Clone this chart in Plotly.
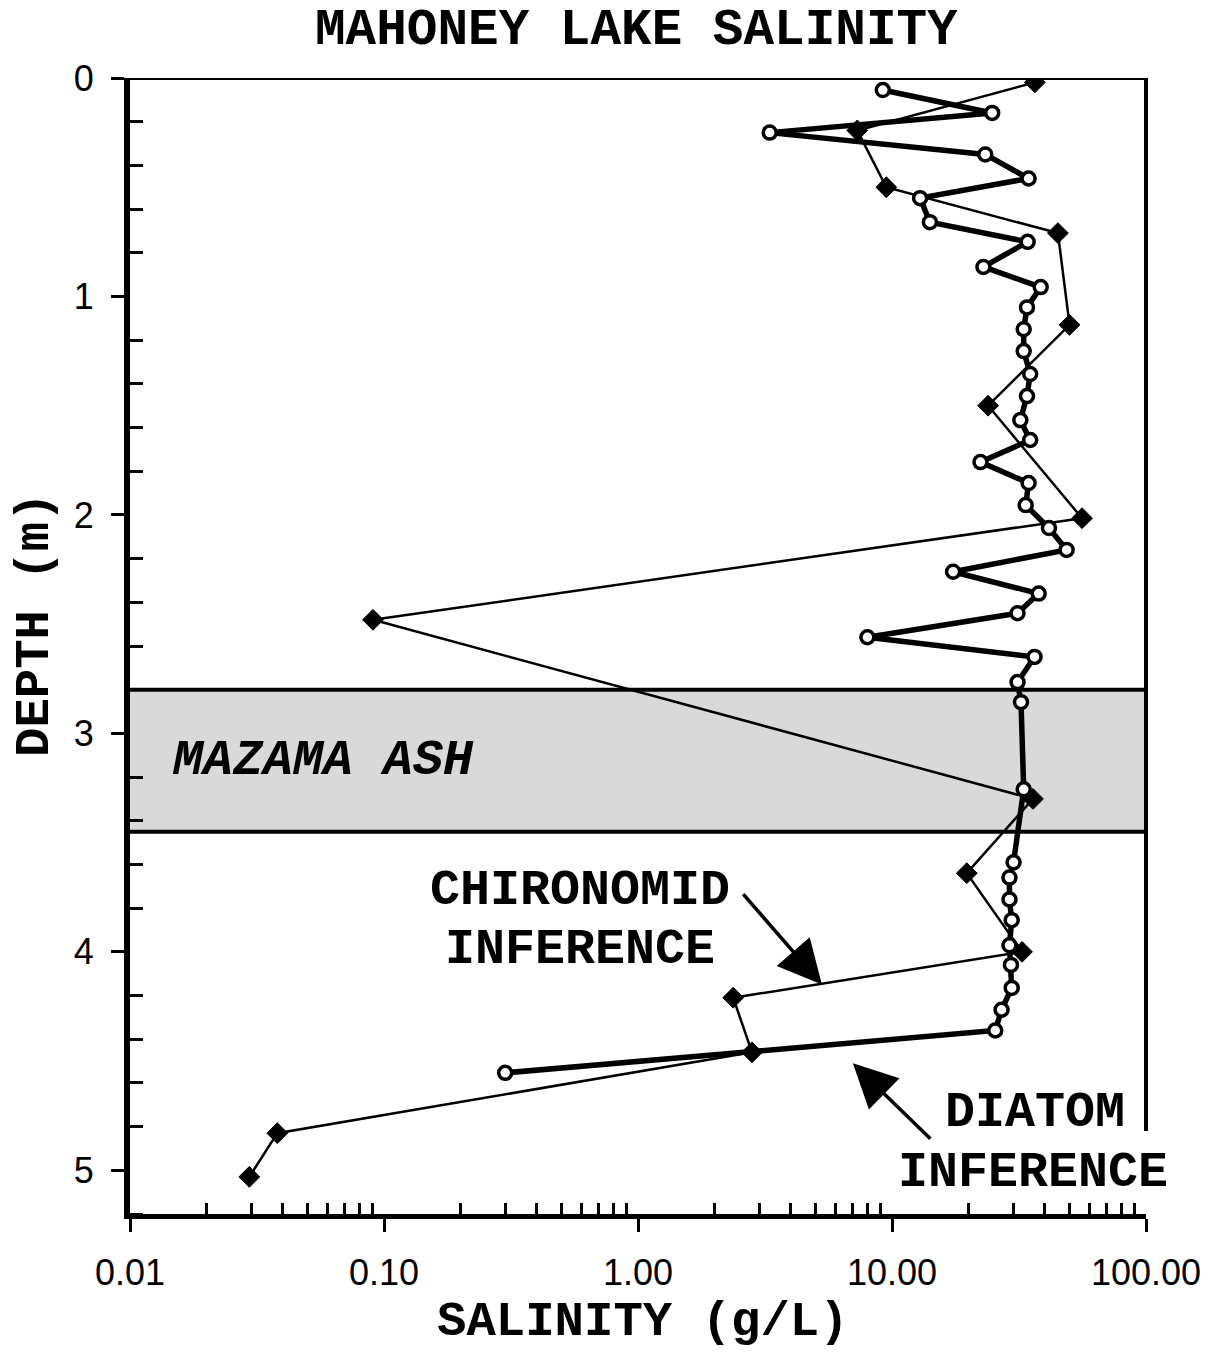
import plotly.graph_objects as go

# Diatom-inferred salinity (g/L) against core depth (m)
diatom_depth = [0.055, 0.16, 0.25, 0.35, 0.46, 0.55, 0.66, 0.75, 0.865, 0.957,
                1.05, 1.15, 1.25, 1.355, 1.456, 1.566, 1.657, 1.758, 1.854, 1.955,
                2.06, 2.16, 2.26, 2.36, 2.45, 2.56, 2.65, 2.765, 2.857, 3.256,
                3.59, 3.66, 3.76, 3.855, 3.97, 4.06, 4.165, 4.265, 4.36, 4.554]
diatom_salinity = [9.2, 24.8, 3.3, 23.3, 34.5, 12.9, 14.1, 34.2, 22.9, 38.5,
                   34.0, 33.0, 33.0, 35.0, 34.0, 32.0, 35.0, 22.3, 34.5, 33.6,
                   41.5, 48.7, 17.4, 37.8, 31.2, 8.0, 36.4, 31.2, 32.2, 33.0,
                   30.1, 29.0, 29.0, 29.6, 29.0, 29.4, 29.6, 27.0, 25.5, 0.30]

# Chironomid-inferred salinity (g/L) against core depth (m)
chiro_depth = [0.02, 0.24, 0.50, 0.71, 1.13, 1.50, 2.015, 2.48, 3.30, 3.64,
               4.00, 4.21, 4.46, 4.83, 5.03]
chiro_salinity = [36.5, 7.3, 9.5, 45.0, 50.0, 23.9, 56.0, 0.0905, 35.9, 19.7,
                  32.5, 2.37, 2.81, 0.038, 0.0295]

# Mazama ash layer (m)
ash_top, ash_bottom = 2.8, 3.45

x_tickvals = [0.01, 0.1, 1, 10, 100]
x_ticktext = ["0.01", "0.10", "1.00", "10.00", "100.00"]
y_tickvals = [0, 1, 2, 3, 4, 5]

W, H = 1227, 1356
ML, MR, MT, MB = 130, 81, 78, 142
PW, PH = W - ML - MR, H - MT - MB


def paper(px, py):
    """Pixel position on the page -> paper coordinates."""
    return (px - ML) / PW, 1 - (py - MT) / PH


MONO = "Liberation Mono"
SANS = "Liberation Sans"

fig = go.Figure()

fig.add_trace(go.Scatter(
    x=chiro_salinity, y=chiro_depth, mode="lines+markers",
    line=dict(color="black", width=2.5),
    marker=dict(symbol="diamond", size=16, color="black",
                line=dict(color="black", width=1)),
    name="Chironomid inference", showlegend=False,
))
fig.add_trace(go.Scatter(
    x=diatom_salinity, y=diatom_depth, mode="lines+markers",
    line=dict(color="black", width=5.5),
    marker=dict(symbol="circle", size=13, color="white",
                line=dict(color="black", width=3.5)),
    name="Diatom inference", showlegend=False,
))

# Ash band and frame
fig.add_shape(type="rect", xref="paper", x0=0, x1=1, yref="y",
              y0=ash_top, y1=ash_bottom, fillcolor="#d9d9d9",
              line=dict(width=0), layer="below")
for yv in (ash_top, ash_bottom):
    fig.add_shape(type="line", xref="paper", x0=0, x1=1, yref="y",
                  y0=yv, y1=yv, line=dict(color="black", width=4))
fig.add_shape(type="line", xref="paper", x0=0, x1=1, yref="y", y0=0, y1=0,
              line=dict(color="black", width=4))
fig.add_shape(type="line", xref="paper", x0=1, x1=1, yref="y", y0=0, y1=4.82,
              line=dict(color="black", width=4))

axis_common = dict(showgrid=False, zeroline=False)
minor_x = [m * 10 ** k for k in range(-2, 2) for m in range(2, 10)]
minor_y = [round(i * 0.2, 1) for i in range(0, 27) if i % 5 != 0]

fig.update_layout(
    width=W, height=H, margin=dict(l=ML, r=MR, t=MT, b=MB),
    paper_bgcolor="white", plot_bgcolor="white",
    xaxis=dict(type="log", range=[-2, 2], showline=True, linecolor="black",
               linewidth=5, ticks="outside", ticklen=13, tickwidth=3,
               tickcolor="black", tickmode="array", tickvals=x_tickvals,
               ticktext=x_ticktext, ticklabelstandoff=10,
               tickfont=dict(family=SANS, size=36, color="black"),
               minor=dict(ticks="inside", ticklen=11, tickwidth=2.5,
                          tickcolor="black", tickmode="array",
                          tickvals=minor_x),
               **axis_common),
    yaxis=dict(range=[5.2, 0], showline=True, linecolor="black", linewidth=6,
               ticks="outside", ticklen=13, tickwidth=3, tickcolor="black",
               tickmode="array", tickvals=y_tickvals, ticklabelstandoff=10,
               tickfont=dict(family=SANS, size=36, color="black"),
               minor=dict(ticks="inside", ticklen=13, tickwidth=2.5,
                          tickcolor="black", tickmode="array",
                          tickvals=minor_y),
               **axis_common),
    # overlay axes give the major ticks their inner half
    xaxis2=dict(type="log", range=[-2, 2], overlaying="x", anchor="y",
                side="bottom", ticks="inside", ticklen=13, tickwidth=3,
                tickcolor="black", tickmode="array", tickvals=x_tickvals,
                showticklabels=False, showline=False, **axis_common),
    yaxis2=dict(range=[5.2, 0], overlaying="y", anchor="x", side="left",
                ticks="inside", ticklen=13, tickwidth=3, tickcolor="black",
                tickmode="array", tickvals=y_tickvals, showticklabels=False,
                showline=False, **axis_common),
)

txt = dict(family=MONO, size=50, color="black")


def label(text, px, py, xanchor="center", angle=0, size=50):
    x, y = paper(px, py)
    fig.add_annotation(text=text, x=x, y=y, xref="paper", yref="paper",
                       xanchor=xanchor, yanchor="middle", showarrow=False,
                       textangle=angle, font=dict(txt, size=size))


label("<b>MAHONEY LAKE SALINITY</b>", 636, 30, size=51)
label("<b>SALINITY (g/L)</b>", 643, 1322, size=49)
label("<b>DEPTH (m)</b>", 35, 625, angle=-90, size=49)
label("<b><i>MAZAMA ASH</i></b>", 170, 760, xanchor="left")
label("<b>CHIRONOMID</b>", 580, 890)
label("<b>INFERENCE</b>", 580, 949)
label("<b>DIATOM</b>", 1035, 1112)
label("<b>INFERENCE</b>", 1033, 1172)

# Pointer arrows (tip in data space, tail offset in pixels)
arrow = dict(showarrow=True, arrowhead=2, arrowsize=2.5, arrowwidth=3.5,
             arrowcolor="black", text="", xref="x", yref="y")
fig.add_annotation(x=0.724, y=4.15, ax=-80, ay=-92, **arrow)
fig.add_annotation(x=0.846, y=4.51, ax=79, ay=77, **arrow)

fig.write_html("out.html")
